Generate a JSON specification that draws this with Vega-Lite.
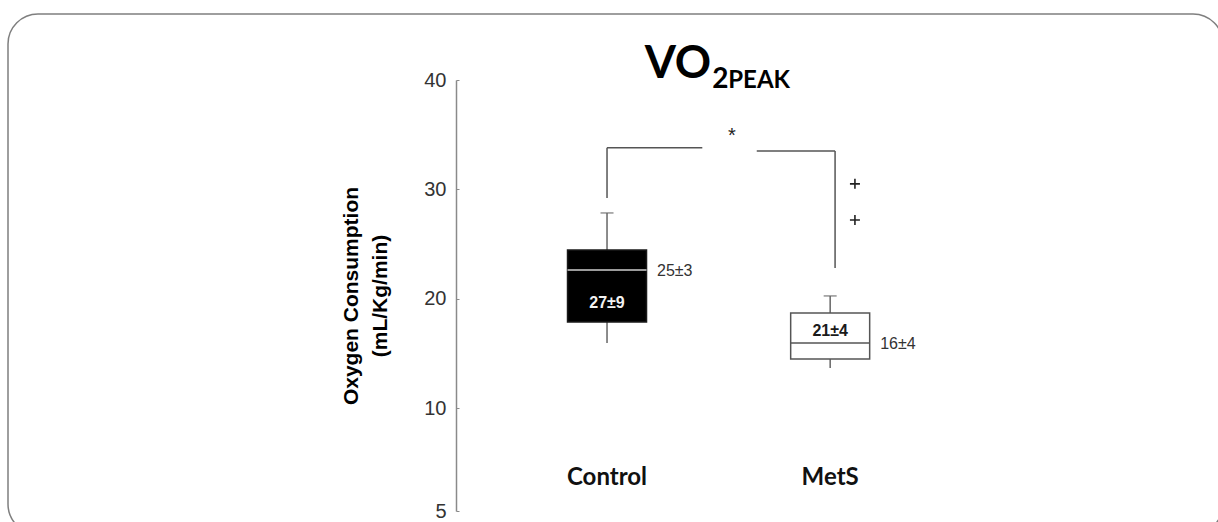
{
  "$schema": "https://vega.github.io/schema/vega-lite/v6.json",
  "width": 1215,
  "height": 520,
  "autosize": {"type": "none"},
  "padding": {"left": 8, "top": 14, "right": -5, "bottom": -12},
  "background": "white",
  "config": {
    "view": {"stroke": "#7f7f7f", "strokeWidth": 1.5, "cornerRadius": 30},
    "font": "Liberation Sans"
  },
  "resolve": {"axis": {"y": "independent", "x": "independent"}},
  "datasets": {
    "brackets": [
      {"pos": 1, "pos2": 1, "ya": 29.2, "yb": 33.8},
      {"pos": 1, "pos2": 1.427, "ya": 33.8, "yb": 33.8},
      {"pos": 1.671, "pos2": 2.022, "ya": 33.5, "yb": 33.5},
      {"pos": 2.022, "pos2": 2.022, "ya": 33.5, "yb": 22.8}
    ],
    "boxes": [
      {"group": "Control", "pos": 1, "lower": 15.95, "q1": 17.87, "median": 22.63, "q3": 24.46, "upper": 27.84, "sideLabel": "25±3", "inner": 19.6, "innerLabel": "27±9"},
      {"group": "MetS", "pos": 2, "lower": 13.66, "q1": 14.48, "median": 15.95, "q3": 18.69, "upper": 20.25, "sideLabel": "16±4", "inner": 17.04, "innerLabel": "21±4"}
    ],
    "outliers": [
      {"group": "MetS", "pos": 2.111, "value": 30.5},
      {"group": "MetS", "pos": 2.111, "value": 27.2}
    ],
    "star": [{"pos": 1.56, "value": 35.4, "label": "*"}],
    "title": [{"pos": 1.467, "value": 40.2, "main": "VO", "sub": "2", "suffix": "PEAK"}]
  },
  "encoding": {
    "x": {"field": "pos", "type": "quantitative", "scale": {"domain": [-1.662, 3.738], "nice": false, "zero": false}, "axis": null}
  },
  "layer": [
    {
      "data": {"name": "brackets"},
      "mark": {"type": "rule", "color": "#555555", "strokeWidth": 1.5},
      "encoding": {
        "x2": {"field": "pos2"},
        "y": {
          "field": "ya", "type": "quantitative",
          "scale": {"domain": [5, 10, 40], "range": [497, 394, 66], "nice": false, "zero": false},
          "axis": {
            "orient": "left",
            "offset": -448,
            "values": [5, 10, 20, 30, 40],
            "grid": false,
            "domainColor": "#8a8a8a",
            "domainWidth": 1.5,
            "tickColor": "#8a8a8a",
            "tickSize": -3,
            "labelPadding": 13,
            "labelFontSize": 20,
            "labelColor": "#333333",
            "labelFont": "Liberation Sans",
            "title": ["Oxygen Consumption", "(mL/Kg/min)"],
            "titleFont": "Liberation Sans",
            "titleFontSize": 21,
            "titleFontWeight": "bold",
            "titleColor": "#000000",
            "titleLineHeight": 29,
            "titlePadding": 33
          }
        },
        "y2": {"field": "yb"}
      }
    },
    {
      "data": {"name": "boxes"},
      "mark": {"type": "rule", "color": "#666666", "strokeWidth": 1.5},
      "encoding": {
        "y": {"field": "lower", "type": "quantitative", "scale": {"domain": [5, 10, 40], "range": [497, 394, 66], "nice": false, "zero": false}, "axis": null},
        "y2": {"field": "upper"}
      }
    },
    {
      "data": {"name": "boxes"},
      "mark": {"type": "tick", "orient": "horizontal", "size": 13, "thickness": 1.5, "color": "#666666"},
      "encoding": {
        "y": {"field": "upper", "type": "quantitative", "scale": {"domain": [5, 10, 40], "range": [497, 394, 66], "nice": false, "zero": false}, "axis": null}
      }
    },
    {
      "data": {"name": "boxes"},
      "mark": {"type": "bar", "size": 79, "strokeWidth": 1.5},
      "encoding": {
        "y": {"field": "q1", "type": "quantitative", "scale": {"domain": [5, 10, 40], "range": [497, 394, 66], "nice": false, "zero": false}, "axis": null},
        "y2": {"field": "q3"},
        "fill": {"condition": {"test": "datum.group === 'Control'", "value": "#000000"}, "value": "#ffffff"},
        "stroke": {"condition": {"test": "datum.group === 'Control'", "value": "#1a1a1a"}, "value": "#555555"},
        "opacity": {"value": 1}
      }
    },
    {
      "data": {"name": "boxes"},
      "mark": {"type": "tick", "orient": "horizontal", "size": 79, "thickness": 1.5, "opacity": 1},
      "encoding": {
        "y": {"field": "median", "type": "quantitative", "scale": {"domain": [5, 10, 40], "range": [497, 394, 66], "nice": false, "zero": false}, "axis": null},
        "color": {"condition": {"test": "datum.group === 'Control'", "value": "#cfcfcf"}, "value": "#555555"}
      }
    },
    {
      "data": {"name": "boxes"},
      "mark": {"type": "text", "align": "left", "baseline": "middle", "dx": 50, "dy": 1, "fontSize": 16, "font": "Liberation Sans", "color": "#333333"},
      "encoding": {
        "y": {"field": "median", "type": "quantitative", "scale": {"domain": [5, 10, 40], "range": [497, 394, 66], "nice": false, "zero": false}, "axis": null},
        "text": {"field": "sideLabel"}
      }
    },
    {
      "data": {"name": "boxes"},
      "mark": {"type": "text", "align": "center", "baseline": "middle", "fontSize": 16, "fontWeight": "bold", "font": "Liberation Sans"},
      "encoding": {
        "y": {"field": "inner", "type": "quantitative", "scale": {"domain": [5, 10, 40], "range": [497, 394, 66], "nice": false, "zero": false}, "axis": null},
        "text": {"field": "innerLabel"},
        "color": {"condition": {"test": "datum.group === 'Control'", "value": "#f2f2f2"}, "value": "#1a1a1a"}
      }
    },
    {
      "data": {"name": "boxes"},
      "mark": {"type": "text", "align": "center", "baseline": "middle", "fontSize": 24, "fontWeight": "bold", "font": "Lato", "color": "#111111"},
      "encoding": {
        "y": {"datum": 6.62, "type": "quantitative", "scale": {"domain": [5, 10, 40], "range": [497, 394, 66], "nice": false, "zero": false}, "axis": null},
        "text": {"field": "group"}
      }
    },
    {
      "data": {"name": "outliers"},
      "mark": {"type": "point", "shape": "M-1,0L1,0M0,-1L0,1", "size": 100, "filled": false, "strokeWidth": 1.6, "color": "#222222", "opacity": 1},
      "encoding": {
        "y": {"field": "value", "type": "quantitative", "scale": {"domain": [5, 10, 40], "range": [497, 394, 66], "nice": false, "zero": false}, "axis": null}
      }
    },
    {
      "data": {"name": "star"},
      "mark": {"type": "text", "align": "center", "baseline": "middle", "dy": 6, "fontSize": 20, "font": "Liberation Sans", "color": "#222222"},
      "encoding": {
        "y": {"field": "value", "type": "quantitative", "scale": {"domain": [5, 10, 40], "range": [497, 394, 66], "nice": false, "zero": false}, "axis": null},
        "text": {"field": "label"}
      }
    },
    {
      "data": {"name": "title"},
      "mark": {"type": "text", "align": "right", "baseline": "alphabetic", "fontSize": 45, "fontWeight": "bold", "font": "Lato", "color": "#000000"},
      "encoding": {
        "y": {"field": "value", "type": "quantitative", "scale": {"domain": [5, 10, 40], "range": [497, 394, 66], "nice": false, "zero": false}, "axis": null},
        "text": {"field": "main"}
      }
    },
    {
      "data": {"name": "title"},
      "mark": {"type": "text", "align": "left", "baseline": "alphabetic", "dx": 1, "dy": 10, "fontSize": 28, "fontWeight": "bold", "font": "Lato", "color": "#000000"},
      "encoding": {
        "y": {"field": "value", "type": "quantitative", "scale": {"domain": [5, 10, 40], "range": [497, 394, 66], "nice": false, "zero": false}, "axis": null},
        "text": {"field": "sub"}
      }
    },
    {
      "data": {"name": "title"},
      "mark": {"type": "text", "align": "left", "baseline": "alphabetic", "dx": 17, "dy": 10, "fontSize": 24, "fontWeight": "bold", "font": "Lato", "color": "#000000"},
      "encoding": {
        "y": {"field": "value", "type": "quantitative", "scale": {"domain": [5, 10, 40], "range": [497, 394, 66], "nice": false, "zero": false}, "axis": null},
        "text": {"field": "suffix"}
      }
    }
  ]
}
